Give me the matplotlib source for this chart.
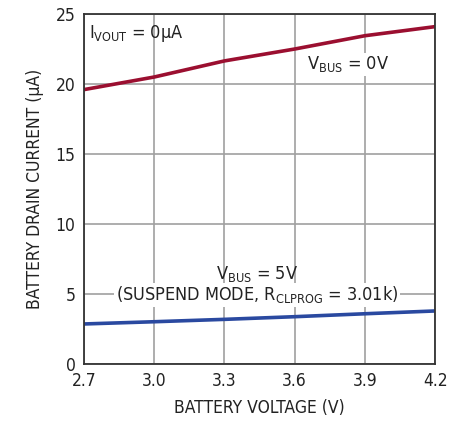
import matplotlib
matplotlib.use("Agg")
import matplotlib.pyplot as plt

# battery voltage (V) and drain current (uA)
voltage = [2.7, 3.0, 3.3, 3.6, 3.9, 4.2]
i_vbus_0v = [19.6, 20.5, 21.65, 22.5, 23.45, 24.1]
i_vbus_5v = [2.86, 3.02, 3.19, 3.38, 3.59, 3.79]

x_ticks = [2.7, 3.0, 3.3, 3.6, 3.9, 4.2]
y_ticks = [0, 5, 10, 15, 20, 25]

plt.rcParams['font.family'] = ['DejaVu Sans']
plt.rcParams['font.stretch'] = 'condensed'
plt.rcParams['mathtext.default'] = 'regular'

fig = plt.figure(figsize=(4.61, 4.25), dpi=100)
ax = fig.add_axes([0.182, 0.1435, 0.762, 0.8235])

ax.plot(voltage, i_vbus_0v, color='#9b0f30', lw=2.6, solid_capstyle='butt')
ax.plot(voltage, i_vbus_5v, color='#2a49a0', lw=2.6, solid_capstyle='butt')

ax.set_xlim(2.7, 4.2)
ax.set_ylim(0, 25)
ax.set_xticks(x_ticks)
ax.set_xticklabels(['%.1f' % t for t in x_ticks])
ax.set_yticks(y_ticks)
ax.grid(True, color='#a0a0a0', lw=1.2)
ax.set_axisbelow(True)
ax.tick_params(length=0, labelsize=12.5, colors='#222222', pad=6)
for s in ax.spines.values():
    s.set_color('#333333')
    s.set_linewidth(1.3)

ax.set_xlabel('BATTERY VOLTAGE (V)', fontsize=12.5, color='#222222', labelpad=6)
ax.set_ylabel('BATTERY DRAIN CURRENT (\u00b5A)', fontsize=12.5, color='#222222', labelpad=8)

ax.text(2.72, 23.6, '$I_{VOUT}$ = 0\u00b5A', fontsize=13, color='#222222', va='center')
ax.text(3.83, 21.4, '$V_{BUS}$ = 0V', fontsize=13, color='#222222', va='center', ha='center',
        bbox=dict(facecolor='white', edgecolor='none', pad=1))
ax.text(3.44, 6.4, '$V_{BUS}$ = 5V', fontsize=13, color='#222222', va='center', ha='center')
ax.text(3.44, 4.95, '(SUSPEND MODE, $R_{CLPROG}$ = 3.01k)', fontsize=13, color='#222222',
        va='center', ha='center', bbox=dict(facecolor='white', edgecolor='none', pad=1))

fig.savefig('out.png', dpi=100)
